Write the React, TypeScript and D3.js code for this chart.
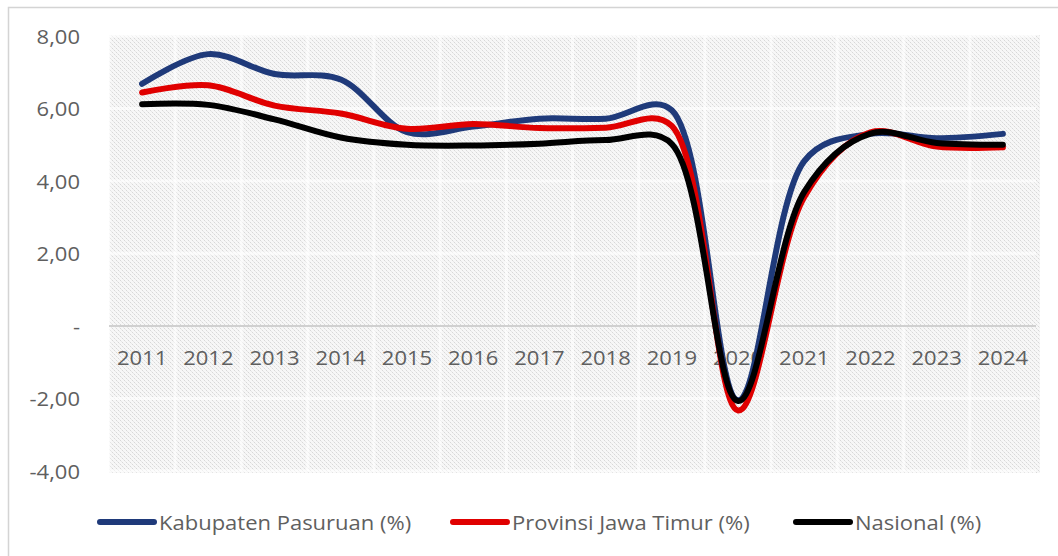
import React from 'react';
import * as d3 from 'd3';

const years = ['2011', '2012', '2013', '2014', '2015', '2016', '2017', '2018', '2019', '2020', '2021', '2022', '2023', '2024'];
const pasuruan = [6.68, 7.5, 6.95, 6.8, 5.35, 5.5, 5.72, 5.72, 5.95, -2.05, 4.55, 5.3, 5.18, 5.3];
const jatim = [6.44, 6.64, 6.08, 5.86, 5.44, 5.57, 5.46, 5.47, 5.52, -2.33, 3.56, 5.34, 4.95, 4.93];
const nasional = [6.12, 6.1, 5.7, 5.2, 5.0, 4.98, 5.03, 5.13, 5.02, -2.07, 3.7, 5.31, 5.05, 5.0];
const yTicks = [-4, -2, 0, 2, 4, 6, 8];
const yTickLabels = ['-4,00', '-2,00', '-', '2,00', '4,00', '6,00', '8,00'];
const seriesNames = ['Kabupaten Pasuruan (%)', 'Provinsi Jawa Timur (%)', 'Nasional (%)'];
const seriesColors = ['#1f3a7a', '#e00000', '#000000'];

const W = 1058;
const H = 556;
const left = 109;
const right = 1036;
const top = 36;
const bottom = 471;
const FONT = '"Open Sans", sans-serif';
const TXT = '#5f5f5f';

export default function App() {
  const x = d3.scalePoint<string>().domain(years).range([left, right]).padding(0.5);
  const step = x.step();
  const y = d3.scaleLinear().domain([-4, 8]).range([bottom, top]);
  const line = d3
    .line<number>()
    .x((_, i) => x(years[i]) as number)
    .y((d) => y(d))
    .curve(d3.curveCatmullRom.alpha(0.4));
  const all = [pasuruan, jatim, nasional];
  const legendX = [97, 450, 793];
  const sx = 1.1;

  return (
    <div style={{ position: 'fixed', left: 0, top: 0 }}>
      <svg width={W} height={H} style={{ display: 'block', background: '#fff' }}>
        <defs>
          <pattern id="hatch" width={4} height={4} patternUnits="userSpaceOnUse">
            <rect width={4} height={4} fill="#f7f7f7" />
            <rect x={0} y={0} width={1} height={1} fill="#d8d8d8" />
            <rect x={2} y={2} width={1} height={1} fill="#d8d8d8" />
            <rect x={1} y={1} width={1} height={1} fill="#e8e8e8" />
            <rect x={3} y={3} width={1} height={1} fill="#e8e8e8" />
          </pattern>
        </defs>
        <rect x={8.5} y={7.5} width={1080} height={600} fill="#fff" stroke="#d4d4d4" strokeWidth={1.5} />
        <rect x={left} y={top - 1} width={right - left + 4} height={bottom - top + 3} fill="url(#hatch)" />
        {years.map((yr) => (
          <line
            key={'vg' + yr}
            x1={(x(yr) as number) - step / 2}
            x2={(x(yr) as number) - step / 2}
            y1={top}
            y2={bottom}
            stroke="#ffffff"
            strokeOpacity={0.6}
            strokeWidth={3}
          />
        ))}
        {yTicks.map((t) =>
          t === 0 ? null : (
            <line key={'hg' + t} x1={left} x2={right} y1={y(t)} y2={y(t)} stroke="#ffffff" strokeOpacity={0.6} strokeWidth={3} />
          )
        )}
        <line x1={left} x2={right} y1={y(0)} y2={y(0)} stroke="#d0d0d0" strokeWidth={2} />
        {yTicks.map((t, i) => (
          <text
            key={'yl' + t}
            transform={`translate(80,${y(t)}) scale(${sx},1)`}
            textAnchor="end"
            dominantBaseline="central"
            fontFamily={FONT}
            fontSize={20}
            fill={TXT}
          >
            {yTickLabels[i]}
          </text>
        ))}
        {years.map((yr) => (
          <text
            key={'xl' + yr}
            transform={`translate(${x(yr)},${y(0) + 31}) scale(${sx},1)`}
            textAnchor="middle"
            dominantBaseline="central"
            fontFamily={FONT}
            fontSize={20}
            fill={TXT}
          >
            {yr}
          </text>
        ))}
        {all.map((s, i) => (
          <path
            key={'s' + i}
            d={line(s) || ''}
            fill="none"
            stroke={seriesColors[i]}
            strokeWidth={6}
            strokeLinecap="round"
            strokeLinejoin="round"
          />
        ))}
        {seriesNames.map((n, i) => (
          <g key={'lg' + i}>
            <line
              x1={legendX[i] + 3}
              x2={legendX[i] + 57}
              y1={522}
              y2={522}
              stroke={seriesColors[i]}
              strokeWidth={6}
              strokeLinecap="round"
            />
            <text
              transform={`translate(${legendX[i] + 62},${522}) scale(${sx},1)`}
              dominantBaseline="central"
              fontFamily={FONT}
              fontSize={20}
              fill={TXT}
            >
              {n}
            </text>
          </g>
        ))}
      </svg>
    </div>
  );
}
